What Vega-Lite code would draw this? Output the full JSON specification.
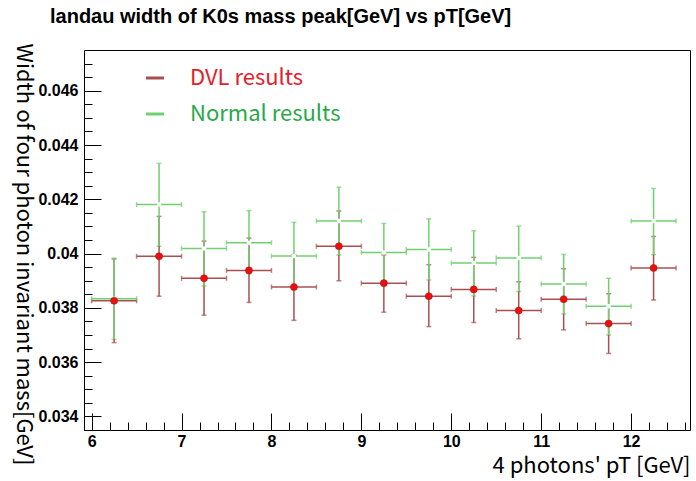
{
  "$schema": "https://vega.github.io/schema/vega-lite/v6.json",
  "autosize": "none",
  "width": 606,
  "height": 380,
  "padding": {"left": 84, "top": 50, "right": 6, "bottom": 51},
  "background": "white",
  "config": {
    "view": {"stroke": "black", "strokeWidth": 1},
    "font": "Liberation Sans"
  },
  "title": {
    "text": "landau width of K0s mass peak[GeV] vs pT[GeV]",
    "anchor": "start",
    "frame": "group",
    "dx": -34,
    "offset": -4,
    "baseline": "bottom",
    "font": "Liberation Sans",
    "fontWeight": "bold",
    "fontSize": 20,
    "color": "black"
  },
  "datasets": {
    "all": [
      {"series": "DVL results", "pt": 6.25, "xlo": 6.0, "xhi": 6.5, "val": 0.03826, "lo": 0.03672, "hi": 0.0398},
      {"series": "DVL results", "pt": 6.75, "xlo": 6.5, "xhi": 7.0, "val": 0.0399, "lo": 0.03843, "hi": 0.04137},
      {"series": "DVL results", "pt": 7.25, "xlo": 7.0, "xhi": 7.5, "val": 0.03909, "lo": 0.03773, "hi": 0.04046},
      {"series": "DVL results", "pt": 7.75, "xlo": 7.5, "xhi": 8.0, "val": 0.03938, "lo": 0.0382, "hi": 0.04057},
      {"series": "DVL results", "pt": 8.25, "xlo": 8.0, "xhi": 8.5, "val": 0.03877, "lo": 0.03754, "hi": 0.03996},
      {"series": "DVL results", "pt": 8.75, "xlo": 8.5, "xhi": 9.0, "val": 0.04027, "lo": 0.039, "hi": 0.04157},
      {"series": "DVL results", "pt": 9.25, "xlo": 9.0, "xhi": 9.5, "val": 0.03891, "lo": 0.03784, "hi": 0.03995},
      {"series": "DVL results", "pt": 9.75, "xlo": 9.5, "xhi": 10.0, "val": 0.03843, "lo": 0.03731, "hi": 0.03959},
      {"series": "DVL results", "pt": 10.25, "xlo": 10.0, "xhi": 10.5, "val": 0.03868, "lo": 0.03746, "hi": 0.03986},
      {"series": "DVL results", "pt": 10.75, "xlo": 10.5, "xhi": 11.0, "val": 0.0379, "lo": 0.03686, "hi": 0.03896},
      {"series": "DVL results", "pt": 11.25, "xlo": 11.0, "xhi": 11.5, "val": 0.03832, "lo": 0.03719, "hi": 0.03944},
      {"series": "DVL results", "pt": 11.75, "xlo": 11.5, "xhi": 12.0, "val": 0.03742, "lo": 0.03632, "hi": 0.03852},
      {"series": "DVL results", "pt": 12.25, "xlo": 12.0, "xhi": 12.5, "val": 0.03947, "lo": 0.03829, "hi": 0.04063},
      {"series": "Normal results", "pt": 6.25, "xlo": 6.0, "xhi": 6.5, "val": 0.03834, "lo": 0.03684, "hi": 0.03983},
      {"series": "Normal results", "pt": 6.75, "xlo": 6.5, "xhi": 7.0, "val": 0.04181, "lo": 0.04027, "hi": 0.04332},
      {"series": "Normal results", "pt": 7.25, "xlo": 7.0, "xhi": 7.5, "val": 0.04019, "lo": 0.03881, "hi": 0.04154},
      {"series": "Normal results", "pt": 7.75, "xlo": 7.5, "xhi": 8.0, "val": 0.0404, "lo": 0.03925, "hi": 0.04158},
      {"series": "Normal results", "pt": 8.25, "xlo": 8.0, "xhi": 8.5, "val": 0.03991, "lo": 0.03867, "hi": 0.04115},
      {"series": "Normal results", "pt": 8.75, "xlo": 8.5, "xhi": 9.0, "val": 0.0412, "lo": 0.03995, "hi": 0.04244},
      {"series": "Normal results", "pt": 9.25, "xlo": 9.0, "xhi": 9.5, "val": 0.04004, "lo": 0.03897, "hi": 0.04111},
      {"series": "Normal results", "pt": 9.75, "xlo": 9.5, "xhi": 10.0, "val": 0.04015, "lo": 0.03903, "hi": 0.04128},
      {"series": "Normal results", "pt": 10.25, "xlo": 10.0, "xhi": 10.5, "val": 0.03965, "lo": 0.03844, "hi": 0.04084},
      {"series": "Normal results", "pt": 10.75, "xlo": 10.5, "xhi": 11.0, "val": 0.03984, "lo": 0.0386, "hi": 0.04101},
      {"series": "Normal results", "pt": 11.25, "xlo": 11.0, "xhi": 11.5, "val": 0.03888, "lo": 0.03778, "hi": 0.03997},
      {"series": "Normal results", "pt": 11.75, "xlo": 11.5, "xhi": 12.0, "val": 0.03806, "lo": 0.037, "hi": 0.03909},
      {"series": "Normal results", "pt": 12.25, "xlo": 12.0, "xhi": 12.5, "val": 0.0412, "lo": 0.03996, "hi": 0.0424}
    ]
  },
  "data": {"name": "all"},
  "resolve": {"axis": {"x": "independent", "y": "independent"}},
  "layer": [
    {
      "mark": {"type": "errorbar", "ticks": {"size": 5}, "thickness": 1.5},
      "encoding": {
        "x": {"field": "xlo", "type": "quantitative",
          "scale": {"domain": [5.915, 12.655], "nice": false, "zero": false},
          "axis": {
            "orient": "bottom",
            "values": [6, 7, 8, 9, 10, 11, 12],
            "format": "d",
            "domain": false,
            "grid": false,
            "tickSize": -17,
            "tickColor": "black",
            "tickWidth": 1,
            "labelPadding": 20,
            "labelFont": "Liberation Sans",
            "labelFontWeight": "bold",
            "labelFontSize": 16,
            "labelColor": "black",
            "labelFlush": false,
            "title": "4 photons' pT [GeV]",
            "titleFont": "Noto Sans CJK JP",
            "titleFontWeight": "normal",
            "titleFontSize": 22,
            "titleColor": "black",
            "titleAnchor": "end",
            "titleAlign": "right",
            "titleBaseline": "alphabetic",
            "titleX": 606,
            "titleY": 42
          }
        },
        "x2": {"field": "xhi"},
        "y": {"field": "val", "type": "quantitative",
          "scale": {"domain": [0.0335, 0.0475], "nice": false, "zero": false},
          "axis": {
            "orient": "left",
            "values": [0.034, 0.036, 0.038, 0.04, 0.042, 0.044, 0.046],
            "format": "~g",
            "domain": false,
            "grid": false,
            "tickSize": -17,
            "tickColor": "black",
            "tickWidth": 1,
            "labelPadding": 23,
            "labelFont": "Liberation Sans",
            "labelFontWeight": "bold",
            "labelFontSize": 16,
            "labelColor": "black",
            "labelFlush": false,
            "title": "Width of four photon invariant mass[GeV]",
            "titleFont": "Noto Sans CJK JP",
            "titleFontWeight": "normal",
            "titleFontSize": 22,
            "titleColor": "black",
            "titleAngle": 90,
            "titleAlign": "center",
            "titleBaseline": "middle",
            "titleX": -61,
            "titleY": 204
          }
        },
        "color": {"field": "series", "type": "nominal",
          "scale": {"domain": ["DVL results", "Normal results"], "range": ["#a85050", "#70d070"]},
          "legend": {
            "orient": "none",
            "legendX": 60,
            "legendY": 17,
            "title": null,
            "padding": 0,
            "symbolType": "stroke",
            "symbolSize": 324,
            "symbolStrokeWidth": 3,
            "labelFont": "Noto Sans CJK JP",
            "labelFontSize": 22,
            "labelOffset": 24,
            "rowPadding": 14,
            "encode": {
              "symbols": {"update": {"stroke": {"signal": "datum.value === 'DVL results' ? '#e0202c' : '#2aa84a'"}}},
              "labels": {"update": {"fill": {"signal": "datum.value === 'DVL results' ? '#e0202c' : '#2aa84a'"}}}
            }
          }
        }
      }
    },
    {
      "mark": {"type": "errorbar", "ticks": {"size": 5}, "thickness": 1.5},
      "encoding": {
        "x": {"field": "pt", "type": "quantitative",
          "axis": {
            "orient": "bottom",
            "values": [6.2, 6.4, 6.6, 6.8, 7.2, 7.4, 7.6, 7.8, 8.2, 8.4, 8.6, 8.8, 9.2, 9.4, 9.6, 9.8, 10.2, 10.4, 10.6, 10.8, 11.2, 11.4, 11.6, 11.8, 12.2, 12.4, 12.6],
            "domain": false, "grid": false, "labels": false, "title": null,
            "tickSize": -8, "tickColor": "black", "tickWidth": 1
          }
        },
        "y": {"field": "lo", "type": "quantitative",
          "axis": {
            "orient": "left",
            "values": [0.0335, 0.0345, 0.035, 0.0355, 0.0365, 0.037, 0.0375, 0.0385, 0.039, 0.0395, 0.0405, 0.041, 0.0415, 0.0425, 0.043, 0.0435, 0.0445, 0.045, 0.0455, 0.0465, 0.047],
            "domain": false, "grid": false, "labels": false, "title": null,
            "tickSize": -8, "tickColor": "black", "tickWidth": 1
          }
        },
        "y2": {"field": "hi"},
        "color": {"field": "series", "type": "nominal", "legend": null}
      }
    },
    {
      "transform": [{"filter": "datum.series === 'Normal results'"}],
      "mark": {"type": "point", "filled": true, "color": "white", "size": 20, "opacity": 1},
      "encoding": {
        "x": {"field": "pt", "type": "quantitative", "axis": null},
        "y": {"field": "val", "type": "quantitative", "axis": null}
      }
    },
    {
      "transform": [{"filter": "datum.series === 'DVL results'"}],
      "mark": {"type": "point", "filled": true, "color": "#ea1010", "size": 50, "opacity": 1, "stroke": "#a01010", "strokeWidth": 0.5},
      "encoding": {
        "x": {"field": "pt", "type": "quantitative", "axis": null},
        "y": {"field": "val", "type": "quantitative", "axis": null}
      }
    }
  ]
}
